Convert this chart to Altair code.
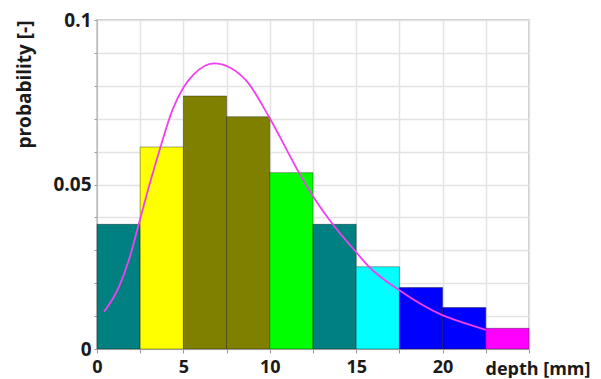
import altair as alt
import pandas as pd

# Histogram bins (depth in mm) and probabilities
bin_start = [0, 2.5, 5, 7.5, 10, 12.5, 15, 17.5, 20, 22.5]
bin_end = [2.5, 5, 7.5, 10, 12.5, 15, 17.5, 20, 22.5, 25]
probability = [0.0379, 0.0614, 0.0769, 0.0706, 0.0536, 0.0379, 0.0250, 0.0187, 0.0126, 0.0063]
bar_colors = ["#008080", "#ffff00", "#808000", "#808000", "#00ff00",
              "#008080", "#00ffff", "#0000ff", "#0000ff", "#ff00ff"]

# Fitted density curve
curve_x = [0.41, 1.27, 1.85, 2.43, 3.0, 3.68, 4.36, 5.03, 5.57, 6.77, 8.6, 9.95,
           11.5, 12.27, 13.6, 14.97, 15.74, 17.48, 19.98, 21.33, 22.5]
curve_y = [0.0113, 0.0189, 0.0271, 0.0382, 0.0493, 0.0615, 0.0726, 0.0797, 0.0833,
           0.0868, 0.0818, 0.0706, 0.0554, 0.0483, 0.0382, 0.0296, 0.025, 0.0179,
           0.0103, 0.0078, 0.0058]

bars = pd.DataFrame({"x0": bin_start, "x1": bin_end, "p": probability,
                     "idx": list(range(len(bin_start)))})
curve = pd.DataFrame({"x": curve_x, "y": curve_y})

FONT = "Open Sans"
x_ticks = [0, 2.5, 5, 7.5, 10, 12.5, 15, 17.5, 20, 22.5, 25]
y_ticks = [0, 0.01, 0.02, 0.03, 0.04, 0.05, 0.06, 0.07, 0.08, 0.09, 0.1]

x_scale = alt.Scale(domain=[0, 25], nice=False, zero=False)
y_scale = alt.Scale(domain=[0, 0.1], nice=False)

x_axis = alt.Axis(
    values=x_ticks,
    labelExpr="(datum.value % 5 == 0 && datum.value < 25) ? datum.label : ''",
    title="depth [mm]", titleX=493, titleY=20, titleAlign="right",
    titleBaseline="middle", titleFont=FONT, titleFontSize=18, titleFontWeight="bold",
    titleColor="#1a1a1a",
    labelFont=FONT, labelFontSize=18, labelFontWeight="bold", labelColor="#1a1a1a",
    labelPadding=5, tickSize=4, tickColor="#999999", domainColor="#bbbbbb",
    gridColor="#e3e3e3", gridWidth=1.5, labelFlush=False, labelOverlap=False,
)
y_axis = alt.Axis(
    values=y_ticks,
    labelExpr="abs(datum.value) < 1e-9 ? '0' : (abs(datum.value - 0.05) < 1e-9 ? '0.05' : (abs(datum.value - 0.1) < 1e-9 ? '0.1' : ''))",
    title="probability [-]", titleAnchor="end", titleAlign="right", titleAngle=270,
    titleX=-73, titleY=0, titleBaseline="middle",
    titleFont=FONT, titleFontSize=19, titleFontWeight="bold", titleColor="#1a1a1a",
    labelFont=FONT, labelFontSize=19, labelFontWeight="bold", labelColor="#1a1a1a",
    labelPadding=3, tickSize=3, tickColor="#999999", domainColor="#bbbbbb",
    gridColor="#e3e3e3", gridWidth=1.5, labelFlush=False, labelOverlap=False,
)

bar_layer = alt.Chart(bars).mark_rect(stroke="#000000", strokeOpacity=0.35, strokeWidth=1).encode(
    x=alt.X("x0:Q", scale=x_scale, axis=x_axis),
    x2="x1:Q",
    y=alt.Y("p:Q", scale=y_scale, axis=y_axis),
    y2=alt.datum(0),
    color=alt.Color("idx:O", scale=alt.Scale(domain=list(range(len(bin_start))), range=bar_colors), legend=None),
)

line_layer = alt.Chart(curve).mark_line(color="#f040f0", strokeWidth=1.8, interpolate="monotone").encode(
    x=alt.X("x:Q", scale=x_scale, axis=x_axis),
    y=alt.Y("y:Q", scale=y_scale, axis=y_axis),
)

chart = alt.layer(bar_layer, line_layer).properties(
    width=432, height=329,
    padding={"left": 7, "top": 3, "right": 0, "bottom": 0},
).configure_view(stroke="#bbbbbb", strokeWidth=1.5)

chart.save("out.html", embed_options={"renderer": "svg", "actions": False})
